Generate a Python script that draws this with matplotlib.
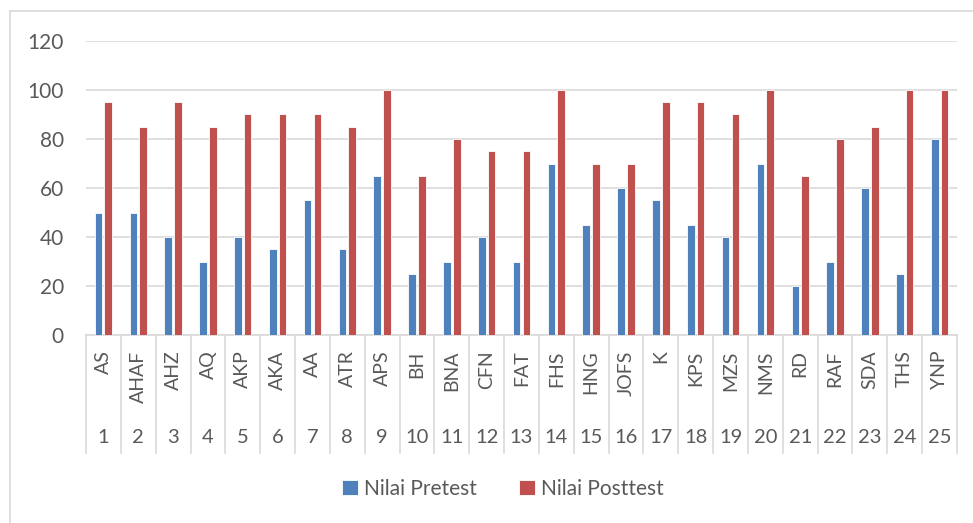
import matplotlib.pyplot as plt
from matplotlib.lines import Line2D
import numpy as np

# data
nomor = [str(i) for i in range(1, 26)]
nama = ['AS', 'AHAF', 'AHZ', 'AQ', 'AKP', 'AKA', 'AA', 'ATR', 'APS', 'BH',
        'BNA', 'CFN', 'FAT', 'FHS', 'HNG', 'JOFS', 'K', 'KPS', 'MZS', 'NMS',
        'RD', 'RAF', 'SDA', 'THS', 'YNP']
pretest = [50, 50, 40, 30, 40, 35, 55, 35, 65, 25, 30, 40, 30, 70, 45,
           60, 55, 45, 40, 70, 20, 30, 60, 25, 80]
posttest = [95, 85, 95, 85, 90, 90, 90, 85, 100, 65, 80, 75, 75, 100, 70,
            70, 95, 95, 90, 100, 65, 80, 85, 100, 100]

plt.rcParams['font.family'] = ['Lato', 'DejaVu Sans']
teks = '#595959'
garis = '#D9D9D9'

W, H = 973, 523
fig = plt.figure(figsize=(W / 100, H / 100), dpi=100)
ax = fig.add_axes([86 / W, 1 - 335 / H, (957 - 86) / W, (335 - 41) / H])

x = np.arange(len(nama))
lebar = 0.22
ax.bar(x - 0.14, pretest, lebar, color='#4F81BD', edgecolor='white',
       linewidth=0.6, label='Nilai Pretest', zorder=3)
ax.bar(x + 0.14, posttest, lebar, color='#C0504D', edgecolor='white',
       linewidth=0.6, label='Nilai Posttest', zorder=3)

ax.set_xlim(-0.5, len(nama) - 0.5)
ax.set_ylim(0, 120)
ax.set_yticks(range(0, 121, 20))
ax.yaxis.grid(True, color=garis, linewidth=1.2, zorder=0)
for s in ['top', 'right', 'left']:
    ax.spines[s].set_visible(False)
ax.spines['bottom'].set_color(garis)
ax.spines['bottom'].set_linewidth(1.2)
ax.tick_params(axis='y', length=0, pad=16, labelsize=15, labelcolor=teks)
ax.set_xticks(x)
ax.set_xticklabels(nama, rotation=90, va='top')
ax.tick_params(axis='x', length=0, pad=11, labelsize=14, labelcolor=teks)

# multi-level category axis
trans = ax.get_xaxis_transform()
for i in range(len(nama) + 1):
    ax.add_line(Line2D([i - 0.5, i - 0.5], [0, -0.40], transform=trans,
                       color=garis, linewidth=1.2, clip_on=False))
for i, n in enumerate(nomor):
    ax.text(i, -0.35, n, transform=trans, ha='center', va='center',
            fontsize=14.5, color=teks)

fig.legend(loc='center', bbox_to_anchor=(503 / W, 1 - 489 / H), ncol=2,
           frameon=False, fontsize=15, labelcolor=teks, handlelength=0.75,
           handleheight=0.75, handletextpad=0.3, columnspacing=2.0)

# chart border (top and left visible)
fig.add_artist(Line2D([10 / W, 1], [1 - 11 / H, 1 - 11 / H], color=garis,
                      linewidth=1.2))
fig.add_artist(Line2D([10 / W, 10 / W], [0, 1 - 11 / H], color=garis,
                      linewidth=1.2))

fig.savefig('out.png', dpi=100)
